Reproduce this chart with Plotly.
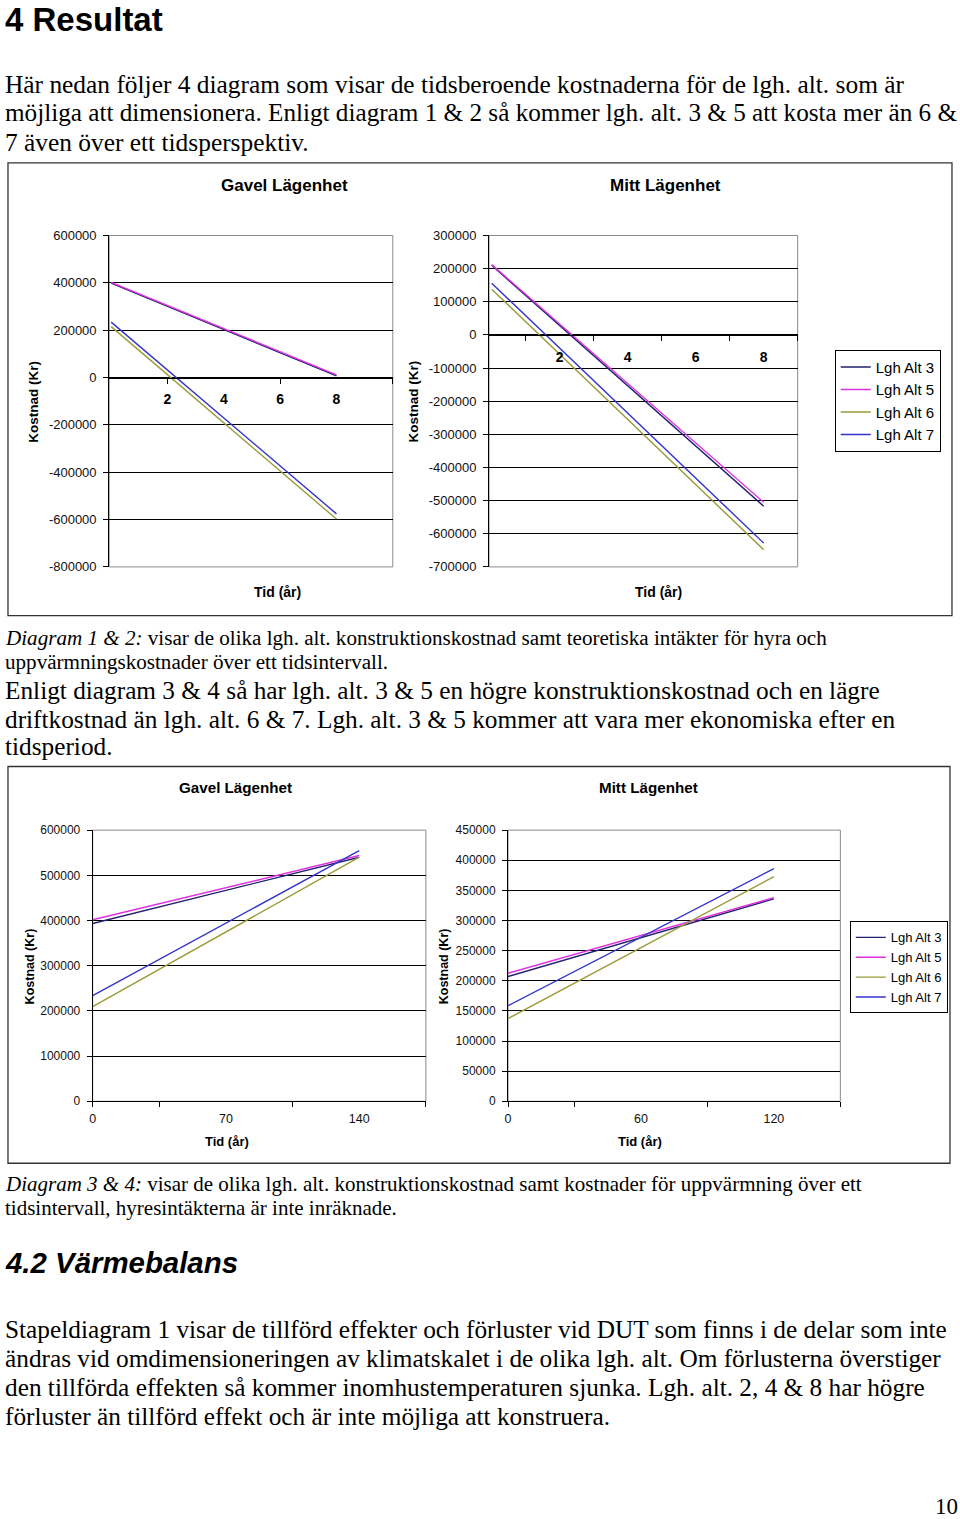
import plotly.graph_objects as go

# ---------------- data ----------------
series_names = ["Lgh Alt 3", "Lgh Alt 5", "Lgh Alt 6", "Lgh Alt 7"]
series_colors = ["#22226e", "#e030e0", "#9a9a38", "#3434cc"]

# Diagram 1: Gavel Lägenhet (with rent income), years
d1_x = [0, 2, 4, 6, 8]
d1_alt3 = [399000, 301000, 203000, 105000, 7000]
d1_alt5 = [402000, 304500, 207000, 109000, 11000]
d1_alt6 = [215000, 12000, -190000, -395000, -598000]
d1_alt7 = [234000, 32000, -171000, -374000, -576000]

# Diagram 2: Mitt Lägenhet (with rent income), years
d2_x = [0, 2, 4, 6, 8]
d2_alt3 = [210000, 28000, -153500, -335000, -517000]
d2_alt5 = [212000, 33000, -146500, -326000, -505000]
d2_alt6 = [138000, -59000, -255500, -452000, -648000]
d2_alt7 = [156000, -40000, -236000, -432000, -628000]

# Diagram 3: Gavel Lägenhet (no rent income), years
d3_x = [0, 35, 70, 105, 140]
d3_alt3 = [393500, 430000, 467000, 503500, 540000]
d3_alt5 = [401600, 437000, 472700, 508000, 543800]
d3_alt6 = [209300, 292000, 374700, 457400, 540100]
d3_alt7 = [233600, 314000, 394000, 474500, 554900]

# Diagram 4: Mitt Lägenhet (no rent income), years
d4_x = [0, 30, 60, 90, 120]
d4_alt3 = [207000, 239000, 271500, 304000, 336000]
d4_alt5 = [212500, 244000, 275000, 306500, 338000]
d4_alt6 = [137200, 196100, 255000, 313900, 372800]
d4_alt7 = [158700, 215500, 272400, 329200, 386100]

# axis ticks
d1_yticks = [-800000, -600000, -400000, -200000, 0, 200000, 400000, 600000]
d2_yticks = [-700000, -600000, -500000, -400000, -300000, -200000, -100000, 0, 100000, 200000, 300000]
d3_yticks = [0, 100000, 200000, 300000, 400000, 500000, 600000]
d4_yticks = [0, 50000, 100000, 150000, 200000, 250000, 300000, 350000, 400000, 450000]
d1_xlabels = [2, 4, 6, 8]
d1_xmarks = [2, 6, 10]
d2_xlabels = [2, 4, 6, 8]
d2_xmarks = [1, 3, 5, 7, 9]
d3_xlabels = [0, 70, 140]
d3_xmarks = [0, 35, 105, 175]
d4_xlabels = [0, 60, 120]
d4_xmarks = [0, 30, 90, 150]

chart_titles = ["Gavel Lägenhet", "Mitt Lägenhet", "Gavel Lägenhet", "Mitt Lägenhet"]
y_title = "Kostnad (Kr)"
x_title = "Tid (år)"

page_lines = [
    # (text, x_px, y_px, size, style)
    ("4 Resultat", 3, 19.5, 33, "h1"),
    ("Här nedan följer 4 diagram som visar de tidsberoende kostnaderna för de lgh. alt. som är", 3, 84, 25.4, "p"),
    ("möjliga att dimensionera. Enligt diagram 1 & 2 så kommer lgh. alt. 3 & 5 att kosta mer än 6 &", 3, 113, 25.2, "p"),
    ("7 även över ett tidsperspektiv.", 3, 142, 25.4, "p"),
    ("<i>Diagram 1 & 2:</i> visar de olika lgh. alt. konstruktionskostnad samt teoretiska intäkter för hyra och", 3, 638, 21.1, "p"),
    ("uppvärmningskostnader över ett tidsintervall.", 3, 662, 21.1, "p"),
    ("Enligt diagram 3 & 4 så har lgh. alt. 3 & 5 en högre konstruktionskostnad och en lägre", 3, 690, 25.3, "p"),
    ("driftkostnad än lgh. alt. 6 & 7. Lgh. alt. 3 & 5 kommer att vara mer ekonomiska efter en", 3, 719, 25.3, "p"),
    ("tidsperiod.", 3, 747, 25.3, "p"),
    ("<i>Diagram 3 & 4:</i> visar de olika lgh. alt. konstruktionskostnad samt kostnader för uppvärmning över ett", 3, 1185, 21.0, "p"),
    ("tidsintervall, hyresintäkterna är inte inräknade.", 3, 1209, 21.0, "p"),
    ("<i>4.2 Värmebalans</i>", 3, 1263, 29.4, "h1"),
    ("Stapeldiagram 1 visar de tillförd effekter och förluster vid DUT som finns i de delar som inte", 3, 1330, 25.3, "p"),
    ("ändras vid omdimensioneringen av klimatskalet i de olika lgh. alt. Om förlusterna överstiger", 3, 1359, 25.3, "p"),
    ("den tillförda effekten så kommer inomhustemperaturen sjunka. Lgh. alt. 2, 4 & 8 har högre", 3, 1388, 25.3, "p"),
    ("förluster än tillförd effekt och är inte möjliga att konstruera.", 3, 1417, 25.3, "p"),
]
page_number = "10"

# ---------------- layout helpers ----------------
W, H = 960, 1519
SANS = "Liberation Sans, Arial, sans-serif"
SERIF = "Liberation Serif, Times New Roman, serif"


def px(x):
    # page pixel -> paper fraction (small calibration to the reference page)
    xc = x * 1.00526 - 3.04
    return xc / W


def py(y):
    yc = y * 1.00938 - 7.14
    return 1 - yc / H


# plot-area boxes in page pixels (left, top, right, bottom)
boxes = [
    (109, 235.7, 392, 567.3),
    (488, 235.7, 796, 567.3),
    (92.5, 830.7, 425, 1102),
    (507, 830.7, 838.6, 1102),
]
yranges = [
    (-800000, 600000),
    (-700000, 300000),
    (0, 600000),
    (0, 450000),
]
xranges = [(-0.07, 10), (-0.08, 9), (0, 175), (0, 150)]

fig = go.Figure()

datasets = [
    (d1_x, [d1_alt3, d1_alt5, d1_alt6, d1_alt7]),
    (d2_x, [d2_alt3, d2_alt5, d2_alt6, d2_alt7]),
    (d3_x, [d3_alt3, d3_alt5, d3_alt6, d3_alt7]),
    (d4_x, [d4_alt3, d4_alt5, d4_alt6, d4_alt7]),
]
legend_of = {1: "legend", 3: "legend2"}
for i, (xs, ys_list) in enumerate(datasets):
    suffix = "" if i == 0 else str(i + 1)
    for k in range(4):
        fig.add_trace(go.Scatter(
            x=xs, y=ys_list[k], mode="lines", name=series_names[k],
            line=dict(color=series_colors[k], width=1.4),
            xaxis="x" + suffix, yaxis="y" + suffix,
            showlegend=i in legend_of,
            legend=legend_of.get(i, "legend"),
        ))

ytick_sets = [d1_yticks, d2_yticks, d3_yticks, d4_yticks]
xlabel_sets = [d1_xlabels, d2_xlabels, d3_xlabels, d4_xlabels]
xmark_sets = [d1_xmarks, d2_xmarks, d3_xmarks, d4_xmarks]

layout = dict(
    width=W, height=H, margin=dict(l=0, r=0, t=0, b=0),
    paper_bgcolor="white", plot_bgcolor="white",
    showlegend=True,
)
shapes = []
for i in range(4):
    l, t, r, b = boxes[i]
    suffix = "" if i == 0 else str(i + 1)
    top_chart = i < 2
    ydom = [py(b), py(t)]
    y0, y1 = yranges[i]
    fs = 13 if top_chart else 12
    xax = dict(
        domain=[px(l), px(r)], range=list(xranges[i]),
        showline=True, linecolor="black", linewidth=1,
        showgrid=False, zeroline=False,
        tickmode="array", tickvals=xlabel_sets[i],
        ticktext=[str(v) for v in xlabel_sets[i]],
        ticks="",
        minor=dict(tickmode="array", tickvals=xmark_sets[i], ticks="outside",
                   ticklen=5, tickcolor="black", tickwidth=1, showgrid=False),
        fixedrange=True,
    )
    if top_chart:
        pos = ydom[0] + (0 - y0) / (y1 - y0) * (ydom[1] - ydom[0])
        xax.update(anchor="free", position=pos,
                   tickfont=dict(family=SANS, size=14, color="black", weight="bold"),
                   ticklabelstandoff=9)
    else:
        xax.update(anchor="y" + suffix,
                   tickfont=dict(family=SANS, size=12.5, color="#111"),
                   ticklabelstandoff=6)
    yax = dict(
        domain=ydom, range=[y0, y1], anchor="x" + suffix,
        showline=True, linecolor="black", linewidth=1,
        showgrid=True, gridcolor="black", gridwidth=1, zeroline=False,
        tickmode="array", tickvals=ytick_sets[i],
        ticktext=[str(v) for v in ytick_sets[i]],
        ticks="outside", ticklen=5, tickcolor="black",
        tickfont=dict(family=SANS, size=fs, color="#111"),
        ticklabelstandoff=4,
        fixedrange=True,
    )
    layout["xaxis" + suffix] = xax
    layout["yaxis" + suffix] = yax
    # plot-area border
    shapes.append(dict(type="rect", xref="x" + suffix + " domain", yref="y" + suffix + " domain",
                       x0=0, x1=1, y0=0, y1=1, line=dict(color="#8a8a8a", width=1), layer="below"))

# chart frames
for (l, t, r, b) in [(8, 163, 950, 616), (8, 767, 948, 1164)]:
    shapes.append(dict(type="rect", xref="paper", yref="paper",
                       x0=px(l), x1=px(r), y0=py(b), y1=py(t),
                       line=dict(color="#333", width=1.3)))
layout["shapes"] = shapes

annotations = []
# chart titles / axis titles (page pixel positions)
title_pos = [(284, 186, 17), (664, 186, 17), (235, 788, 15.2), (647, 788, 15.2)]
ytitle_pos = [(34, 402, 13.5), (413, 402, 13.5), (30, 967, 12.5), (443, 967, 12.5)]
xtitle_pos = [(277, 592, 14), (657, 592, 14), (227, 1142, 13), (639, 1142, 13)]
for i in range(4):
    tx, ty, ts = title_pos[i]
    annotations.append(dict(text=chart_titles[i], x=px(tx), y=py(ty), xref="paper", yref="paper",
                            showarrow=False, xanchor="center", yanchor="middle",
                            font=dict(family=SANS, size=ts, color="black", weight="bold")))
    ax_, ay_, as_ = ytitle_pos[i]
    annotations.append(dict(text=y_title, x=px(ax_), y=py(ay_), xref="paper", yref="paper",
                            showarrow=False, xanchor="center", yanchor="middle", textangle=-90,
                            font=dict(family=SANS, size=as_, color="black", weight="bold")))
    bx, by, bs = xtitle_pos[i]
    annotations.append(dict(text=x_title, x=px(bx), y=py(by), xref="paper", yref="paper",
                            showarrow=False, xanchor="center", yanchor="middle",
                            font=dict(family=SANS, size=bs, color="black", weight="bold")))

for text, x, y, size, style in page_lines:
    if style == "h1":
        f = dict(family=SANS, size=size, color="black", weight="bold")
    else:
        f = dict(family=SERIF, size=size, color="black")
    annotations.append(dict(text=text, x=px(x), y=py(y), xref="paper", yref="paper",
                            showarrow=False, xanchor="left", yanchor="middle", font=f))
annotations.append(dict(text=page_number, x=px(958), y=py(1507), xref="paper", yref="paper",
                        showarrow=False, xanchor="right", yanchor="middle",
                        font=dict(family=SERIF, size=23, color="black")))
layout["annotations"] = annotations

layout["legend"] = dict(x=px(833), y=py(350), xanchor="left", yanchor="top",
                        bordercolor="black", borderwidth=1, bgcolor="white",
                        font=dict(family=SANS, size=15, color="black"), traceorder="normal")
layout["legend2"] = dict(x=px(848), y=py(922), xanchor="left", yanchor="top",
                         bordercolor="black", borderwidth=1, bgcolor="white",
                         font=dict(family=SANS, size=13, color="black"), traceorder="normal")

fig.update_layout(**layout)

# the page itself should have no margin so the 960x1519 figure fills the window
page_css = ("document.documentElement.style.margin='0';"
            "document.body.style.margin='0';"
            "document.body.style.overflow='hidden';")
fig.write_html("out.html", post_script=page_css, config={"displayModeBar": False})
